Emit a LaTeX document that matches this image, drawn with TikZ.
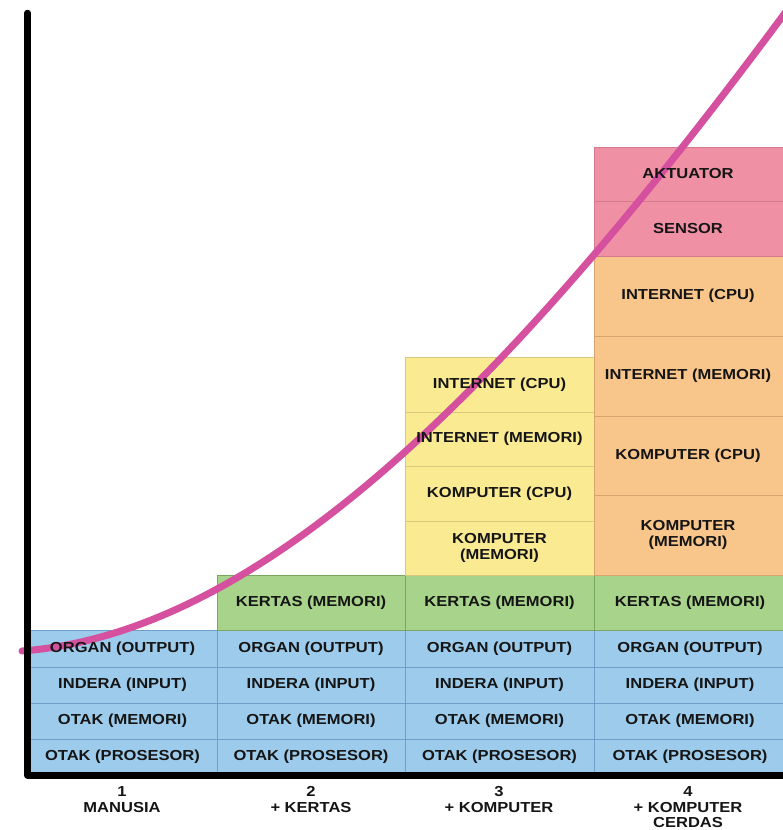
\documentclass[tikz,border=0pt]{standalone}
\usepackage{fontspec}
\newfontfamily\lblfont{Liberation Sans}[FakeStretch=1.14]

\definecolor{bluefill}{HTML}{9DCBEB}
\definecolor{blueline}{HTML}{6D9FC9}
\definecolor{greenfill}{HTML}{A8D38B}
\definecolor{greenline}{HTML}{78A860}
\definecolor{yellowfill}{HTML}{FAEB93}
\definecolor{yellowline}{HTML}{D8C97E}
\definecolor{orangefill}{HTML}{F8C58B}
\definecolor{orangeline}{HTML}{D6A46E}
\definecolor{pinkfill}{HTML}{F090A4}
\definecolor{pinkline}{HTML}{D47A8E}
\definecolor{growth}{HTML}{D5519F}
\definecolor{txt}{HTML}{151515}

% one coloured cell, given by its corners: name, x0, y0, x1, y1, style
\newcommand\cellbox[6]{%
  \node[box,#6,minimum width={(#4-#2)*1pt},minimum height={(#5-#3)*1pt}]
    (#1) at ({(#2+#4)/2},{(#3+#5)/2}) {};}

\begin{document}
\begin{tikzpicture}[x=1pt,y=-1pt,
  box/.style={rectangle,draw,inner sep=0pt,outer sep=0pt,line width=0.8pt},
  bluecell/.style={fill=bluefill,draw=blueline},
  greencell/.style={fill=greenfill,draw=greenline},
  yellowcell/.style={fill=yellowfill,draw=yellowline},
  orangecell/.style={fill=orangefill,draw=orangeline},
  pinkcell/.style={fill=pinkfill,draw=pinkline},
  lab/.style={font=\lblfont\bfseries\fontsize{14.5}{15.5}\selectfont,
    text=txt,align=center,inner sep=0pt},
  curveline/.style={draw=growth,line width=7pt,line cap=round},
  axisline/.style={draw=black,line width=6.5pt,line cap=round,line join=round}]
\useasboundingbox (0,0) rectangle (782,830);

% base layer: the human (blue) cells in every column
\foreach \c/\xa/\xb in {1/28/217,2/217/405,3/405/594,4/594/786}{
  \foreach \r/\ya/\yb in {1/630/667,2/667/703,3/703/739,4/739/775}{
    \cellbox{b\c\r}{\xa}{\ya}{\xb}{\yb}{bluecell}
  }
}
% paper memory
\foreach \c/\xa/\xb in {2/217/405,3/405/594,4/594/786}{
  \cellbox{g\c}{\xa}{575}{\xb}{630}{greencell}
}
% computer + internet (column 3)
\foreach \r/\ya/\yb in {1/357/412,2/412/466,3/466/521,4/521/575}{
  \cellbox{y\r}{405}{\ya}{594}{\yb}{yellowcell}
}
% computer + internet (column 4)
\foreach \r/\ya/\yb in {1/256/336,2/336/416,3/416/495,4/495/575}{
  \cellbox{o\r}{594}{\ya}{786}{\yb}{orangecell}
}
% sensors and actuators
\cellbox{p1}{594}{147}{786}{201}{pinkcell}
\cellbox{p2}{594}{201}{786}{256}{pinkcell}

% growth curve: rise as a cubic in v = (x-22)/100
\draw[curveline] plot[domain=0:7.7,samples=90,variable=\v]
  ({22+100*\v},{651-(7.58*\v+13.2445*\v*\v-0.42965*\v*\v*\v)});

% axes
\coordinate (ytop) at (27.5,13);
\coordinate (origin) at (27.5,775.5);
\coordinate (xend) at (792,775.5);
\draw[axisline] (ytop) -- (origin) -- (xend);

% cell texts
\foreach \c in {1,...,4}{
  \foreach \r/\t in {1/{ORGAN (OUTPUT)},2/{INDERA (INPUT)},
                     3/{OTAK (MEMORI)},4/{OTAK (PROSESOR)}}{
    \node[lab] (lb\c\r) at (b\c\r) {\t};
  }
}
\foreach \c in {2,3,4}{
  \node[lab] (lg\c) at (g\c) {KERTAS (MEMORI)};
}
\node[lab] (ly1) at (y1) {INTERNET (CPU)};
\node[lab] (ly2) at (y2) {INTERNET (MEMORI)};
\node[lab] (ly3) at (y3) {KOMPUTER (CPU)};
\node[lab] (ly4) at (y4) {KOMPUTER\\(MEMORI)};
\node[lab] (lo1) at ([xshift=-2pt]o1.center) {INTERNET (CPU)};
\node[lab] (lo2) at ([xshift=-2pt]o2.center) {INTERNET (MEMORI)};
\node[lab] (lo3) at ([xshift=-2pt]o3.center) {KOMPUTER (CPU)};
\node[lab] (lo4) at ([xshift=-2pt]o4.center) {KOMPUTER\\(MEMORI)};
\node[lab] (lp1) at ([xshift=-2pt]p1.center) {AKTUATOR};
\node[lab] (lp2) at ([xshift=-2pt]p2.center) {SENSOR};

% stage labels under the axis
\node[lab,anchor=north] (s1) at (122,786.5) {1\\MANUSIA};
\node[lab,anchor=north] (s2) at (311,786.5) {2\\+ KERTAS};
\node[lab,anchor=north] (s3) at (499,786.5) {3\\+ KOMPUTER};
\node[lab,anchor=north] (s4) at (688,786.5) {4\\+ KOMPUTER\\CERDAS};
\end{tikzpicture}
\end{document}
